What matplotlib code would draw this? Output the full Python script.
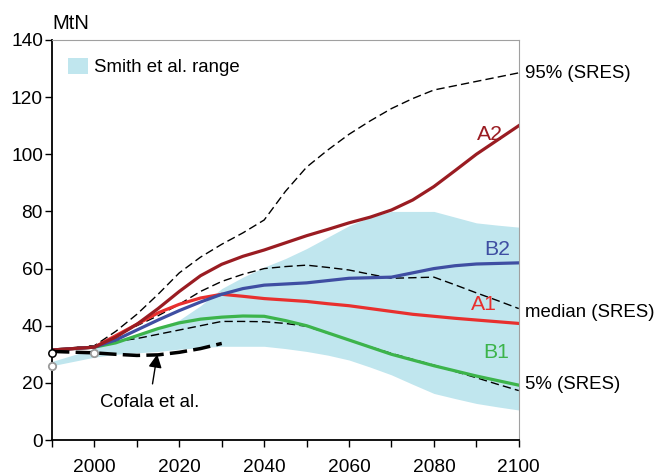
import matplotlib.pyplot as plt

plt.rcParams['font.family'] = ['Liberation Sans', 'DejaVu Sans']

years = [1990, 2000, 2005, 2010, 2015, 2020, 2025, 2030, 2035, 2040, 2045,
         2050, 2055, 2060, 2065, 2070, 2075, 2080, 2085, 2090, 2095, 2100]

# scenario series (MtN)
a2 = [31.5, 32.5, 36, 40.5, 46, 52, 57.5, 61.5, 64.3, 66.5, 69,
      71.5, 73.7, 76, 78, 80.5, 84, 88.7, 94.3, 100, 105, 110]
b2 = [31.5, 32.5, 35, 38.5, 42, 45.3, 48.3, 51, 53, 54.2, 54.6,
      55, 55.8, 56.6, 56.8, 57, 58.5, 60, 61, 61.6, 61.8, 62]
a1 = [31.5, 32.5, 36.5, 40.5, 44.5, 47.5, 49.7, 51, 50.3, 49.5, 49,
      48.5, 47.7, 47, 46, 45, 44, 43.3, 42.6, 42, 41.4, 40.8]
b1 = [31.5, 32.5, 34, 36.5, 39, 41, 42.3, 43, 43.4, 43.3, 41.8,
      40, 37.5, 35, 32.5, 30, 28, 26, 24.2, 22.4, 20.8, 19.2]

sres_95 = [31.5, 33, 38, 44, 51, 58.5, 64, 68.5, 72.5, 77, 87,
           95.5, 101.5, 107, 111.7, 116, 119.5, 122.5, 124, 125.5, 127, 128.5]
sres_med = [31.5, 33, 36.5, 40, 43.5, 47.5, 52, 55.5, 58, 60, 60.7,
            61.2, 60.4, 59.5, 58, 56.6, 56.8, 57, 54.3, 51.5, 48.8, 46]
sres_5 = [31.5, 33, 34.5, 35.5, 37, 38.5, 40, 41.5, 41.5, 41.4, 40.8,
          39.8, 37.4, 35, 32.6, 30.3, 28.2, 26.2, 24, 21.8, 19.5, 17.3]

smith_low = [26, 29, 30, 30.5, 31, 31.8, 32.3, 32.8, 32.8, 32.8, 32,
             31, 29.7, 28, 25.5, 22.8, 19.5, 16.3, 14.5, 12.8, 11.6, 10.5]
smith_high = [27.5, 32, 35, 37, 39.5, 42, 47, 53, 57, 60.5, 63.5,
              67, 71, 75, 78, 80, 80, 80, 78, 76, 75.2, 74.5]

cofala_years = [1990, 2000, 2005, 2010, 2015, 2020, 2025, 2030]
cofala = [31, 30.5, 30, 29.6, 29.8, 30.7, 32, 33.8]

obs_years = [1990, 1990, 2000]
obs_vals = [30.5, 26, 30.5]

fig = plt.figure(figsize=(6.55, 4.76), dpi=100)
ax = fig.add_axes([0.0794, 0.0756, 0.7126, 0.8404])

ax.fill_between(years, smith_low, smith_high, color='#c0e6ee', lw=0, label='Smith et al. range')

for s in [sres_95, sres_med, sres_5]:
    ax.plot(years, s, color='black', lw=1.0, dashes=(6, 3))

ax.plot(years, b1, color='#3cb44b', lw=2.3)
ax.plot(years, a1, color='#e8302e', lw=2.3)
ax.plot(years, b2, color='#3f4ea2', lw=2.3)
ax.plot(years, a2, color='#9a1c22', lw=2.3)

ax.plot(cofala_years, cofala, color='black', lw=2.5, dashes=(5, 1.8))

ax.scatter(obs_years[:1], obs_vals[:1], s=28, facecolor='white', edgecolor='black', lw=1.1, zorder=5, clip_on=False)
ax.scatter(obs_years[1:], obs_vals[1:], s=28, facecolor='white', edgecolor='#9a9a9a', lw=1.3, zorder=5, clip_on=False)

ax.annotate('Cofala et al.', xy=(2014.8, 30.0), xytext=(2013, 13.3), ha='center', va='center', fontsize=13.4,
            arrowprops=dict(arrowstyle='-|>', color='black', lw=1, mutation_scale=20, shrinkA=5, shrinkB=0))

ax.text(2093.3, 107, 'A2', color='#9a1c22', fontsize=15.3, ha='center', va='center')
ax.text(2095, 66.5, 'B2', color='#3f4ea2', fontsize=15.3, ha='center', va='center')
ax.text(2091.7, 47.6, 'A1', color='#e8302e', fontsize=15.3, ha='center', va='center')
ax.text(2094.6, 30.5, 'B1', color='#3cb44b', fontsize=15.3, ha='center', va='center')

ax.text(2101.4, 128.3, '95% (SRES)', fontsize=13.4, va='center', clip_on=False)
ax.text(2101.4, 44.5, 'median (SRES)', fontsize=13.4, va='center', clip_on=False)
ax.text(2101.4, 19.3, '5% (SRES)', fontsize=13.4, va='center', clip_on=False)

ax.set_xlim(1990, 2100)
ax.set_ylim(0, 140)
ax.set_xticks(range(2000, 2101, 20))
ax.set_xticks(range(1990, 2101, 10), minor=True)
ax.set_yticks(range(0, 141, 20))
ax.tick_params(axis='both', which='both', direction='out', labelsize=13.8, length=5, width=1)
ax.tick_params(axis='x', which='major', pad=9)
ax.tick_params(axis='y', which='major', pad=1.5)
ax.spines['top'].set_color('#a0a0a0')
ax.spines['right'].set_color('#a0a0a0')
for sp in ['left', 'bottom']:
    ax.spines[sp].set_linewidth(1.3)

ax.text(0, 1.0275, 'MtN', transform=ax.transAxes, fontsize=14.5, ha='left', va='baseline')
ax.legend(loc='upper left', frameon=False, fontsize=13.4, handlelength=1.07, handleheight=0.91,
          handletextpad=0.35, borderpad=0, borderaxespad=0, bbox_to_anchor=(0.034, 0.955))

fig.savefig('out.png', dpi=100)
